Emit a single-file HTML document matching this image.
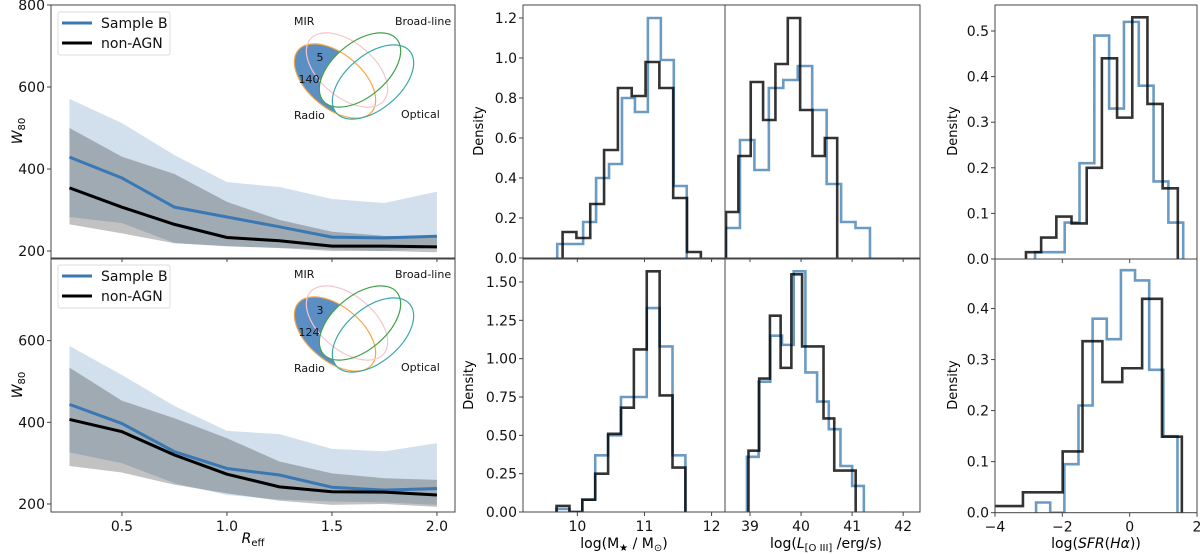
<!DOCTYPE html>
<html><head><meta charset="utf-8">
<style>
html,body{margin:0;padding:0;background:#fff;}
svg{display:block;font-family:"DejaVu Sans","Liberation Sans",sans-serif;}
</style></head>
<body>
<svg id="fig" width="1200" height="554" viewBox="0 0 1200 554" xmlns="http://www.w3.org/2000/svg"></svg>
<script>
// ---------- Data ----------
const reff = [0.25,0.5,0.75,1.0,1.25,1.5,1.75,2.0];
// top panel
const topSampleB = [429,378,307,283,259,234,232,236];
const topSampleBHi = [571,512,434,368,356,327,317,345];
const topSampleBLo = [283,268,220,211,208,204,200,207];
const topNonAGN = [354,307,265,233,225,212,212,210];
const topNonAGNHi = [500,430,388,320,276,247,237,236];
const topNonAGNLo = [265,243,219,212,207,200,200,197];
// bottom panel
const botSampleB = [444,397,328,287,271,241,234,238];
const botSampleBHi = [587,516,440,379,371,335,329,349];
const botSampleBLo = [326,300,251,222,211,206,204,198];
const botNonAGN = [407,377,320,273,242,230,229,222];
const botNonAGNHi = [534,453,410,361,304,275,263,259];
const botNonAGNLo = [293,277,247,226,208,198,200,193];
const leftYTicksTop = [200,400,600,800];
const leftYTicksBot = [200,400,600];
const leftXTicks = [0.5,1.0,1.5,2.0];

// histograms: start edge, bin width, heights
const massTopBlueStart = 9.70, massTopBlueW = 0.193;
const massTopBlue = [0.07,0.07,0.18,0.40,0.47,0.80,0.73,1.20,0.99,0.36];
const massTopBlackStart = 9.78, massTopBlackW = 0.206;
const massTopBlack = [0.13,0.10,0.27,0.54,0.85,0.81,0.98,0.85,0.30,0.03];
const oiiiTopBlueStart = 38.52, oiiiTopBlueW = 0.283;
const oiiiTopBlue = [0.15,0.59,0.44,0.85,0.89,0.96,0.74,0.37,0.18,0.15];
const oiiiTopBlackStart = 38.53, oiiiTopBlackW = 0.242;
const oiiiTopBlack = [0.23,0.51,0.88,0.69,0.97,1.20,0.74,0.51,0.60];
const massBotBlueStart = 9.69, massBotBlueW = 0.192;
const massBotBlue = [0.02,0.00,0.08,0.37,0.50,0.75,0.75,1.33,1.08,0.37];
const massBotBlackStart = 9.69, massBotBlackW = 0.192;
const massBotBlack = [0.04,0.00,0.08,0.25,0.51,0.68,1.06,1.57,0.76,0.29];
const oiiiBotBlueStart = 38.94, oiiiBotBlueW = 0.229;
const oiiiBotBlue = [0.36,0.85,1.15,1.09,1.57,0.91,0.72,0.54,0.30,0.17];
const oiiiBotBlackStart = 38.97, oiiiBotBlackW = 0.21;
const oiiiBotBlack = [0.40,0.87,1.28,0.94,1.55,1.08,1.08,0.61,0.27,0.27];
const sfrTopBlueStart = -2.81, sfrTopBlueW = 0.44;
const sfrTopBlue = [0.015,0.015,0.08,0.21,0.49,0.33,0.52,0.38,0.17,0.08];
const sfrTopBlackStart = -3.08, sfrTopBlackW = 0.451;
const sfrTopBlack = [0.015,0.047,0.093,0.078,0.20,0.44,0.31,0.53,0.34,0.155];
const sfrBotBlueStart = -2.78, sfrBotBlueW = 0.42;
const sfrBotBlue = [0.02,0.00,0.095,0.21,0.38,0.34,0.475,0.455,0.28,0.15];
const sfrBotBlackStart = -4.35, sfrBotBlackW = 0.59;
const sfrBotBlack = [0.013,0.013,0.04,0.04,0.12,0.336,0.256,0.283,0.419,0.149];

const massTicks = [10,11,12];
const oiiiTicks = [39,40,41,42];
const sfrTicks = [-4,-2,0,2];
const densTopMid = [0.0,0.2,0.4,0.6,0.8,1.0,1.2];
const densBotMid = [0.00,0.25,0.50,0.75,1.00,1.25,1.50];
const densTopRight = [0.0,0.1,0.2,0.3,0.4,0.5];
const densBotRight = [0.0,0.1,0.2,0.3,0.4];

// ---------- Helpers ----------
const NS = 'http://www.w3.org/2000/svg';
const svg = document.getElementById('fig');
function mk(tag, parent){ const e=document.createElementNS(NS,tag); (parent||svg).appendChild(e); return e; }
function scale(d0,d1,r0,r1){ return v => r0 + (v-d0)/(d1-d0)*(r1-r0); }
let clipId=0;
function makePanel(name,x0,x1,y0,y1,xd,yd){
  const g = mk('g');
  
  
  const cp = mk('clipPath', g); cp.setAttribute('id','c'+clipId);
  const r = mk('rect', cp); r.setAttribute('x',x0); r.setAttribute('y',y0); r.setAttribute('width',x1-x0); r.setAttribute('height',y1-y0);
  const inner = mk('g', g); inner.setAttribute('clip-path','url(#c'+clipId+')'); clipId++;
  return {g, inner, x0,x1,y0,y1, sx: scale(xd[0],xd[1],x0,x1), sy: scale(yd[0],yd[1],y1,y0)};
}
function frame(p){
  const r = mk('rect', p.g);
  
  
  r.setAttribute('x',p.x0); r.setAttribute('y',p.y0); r.setAttribute('width',p.x1-p.x0); r.setAttribute('height',p.y1-p.y0);
  r.setAttribute('fill','none'); r.setAttribute('stroke','#444'); r.setAttribute('stroke-width','1');
}
function text(parent,x,y,str,size,anchor){
  const t = mk('text', parent);
  t.setAttribute('x',x); t.setAttribute('y',y); t.setAttribute('font-size',size); t.setAttribute('text-anchor',anchor||'middle'); t.setAttribute('fill','#111');
  t.textContent = str; return t;
}
function yTicks(p, ticks, labels, fmt){
  ticks.forEach(v=>{
    const y = p.sy(v);
    const l = mk('line', p.g); l.setAttribute('x1',p.x0-4); l.setAttribute('x2',p.x0); l.setAttribute('y1',y); l.setAttribute('y2',y); l.setAttribute('stroke','#444');
    if(labels){ const t=text(p.g,p.x0-6,y+5,fmt(v),14,'end');
        }
  });
}
function xTicks(p, ticks, labels, fmt){
  ticks.forEach(v=>{
    const x = p.sx(v);
    const l = mk('line', p.g); l.setAttribute('x1',x); l.setAttribute('x2',x); l.setAttribute('y1',p.y1); l.setAttribute('y2',p.y1+4); l.setAttribute('stroke','#444');
    if(labels){ const t=text(p.g,x,p.y1+19,fmt(v),14,'middle');
        }
  });
}
function band(p, xs, hi, lo, fill, name){
  let d='M';
  xs.forEach((x,i)=>{ d += p.sx(x)+','+p.sy(hi[i])+' L'; });
  for(let i=xs.length-1;i>=0;i--){ d += p.sx(xs[i])+','+p.sy(lo[i])+(i>0?' L':' Z'); }
  const path = mk('path', p.inner); path.setAttribute('d',d); path.setAttribute('fill',fill);
  
  
}
function line(p, xs, ys, color, name){
  const pts = xs.map((x,i)=>p.sx(x)+','+p.sy(ys[i])).join(' ');
  const pl = mk('polyline', p.inner); pl.setAttribute('points',pts); pl.setAttribute('fill','none'); pl.setAttribute('stroke',color); pl.setAttribute('stroke-width','3');
  
  
}
function hist(p, start, w, h, color, name){
  let d = 'M'+p.sx(start)+','+p.sy(0);
  h.forEach((v,i)=>{ d += ' L'+p.sx(start+i*w)+','+p.sy(v)+' L'+p.sx(start+(i+1)*w)+','+p.sy(v); });
  d += ' L'+p.sx(start+h.length*w)+','+p.sy(0);
  const path = mk('path', p.inner); path.setAttribute('d',d); path.setAttribute('fill','none'); path.setAttribute('stroke',color); path.setAttribute('stroke-width','2.6'); path.setAttribute('stroke-linejoin','miter');
  
  
}
function legend(g, dy){
  const lg = mk('g', g);
  
  
  const r = mk('rect', lg); r.setAttribute('x',58); r.setAttribute('y',12+dy); r.setAttribute('width',112); r.setAttribute('height',43); r.setAttribute('rx',2);
  r.setAttribute('fill','#fff'); r.setAttribute('fill-opacity','0.8'); r.setAttribute('stroke','#ddd');
  const items=[['Sample B','#3a78b4',23],['non-AGN','#000',43]];
  items.forEach(it=>{
    const e = mk('g', lg);
    
    
    const l = mk('line', e); l.setAttribute('x1',62); l.setAttribute('x2',92); l.setAttribute('y1',it[2]+dy); l.setAttribute('y2',it[2]+dy); l.setAttribute('stroke',it[1]); l.setAttribute('stroke-width','3');
    text(e,101,it[2]+dy+5,it[0],14,'start');
  });
}
function venn(g, dy, n1, n2){
  const vg = mk('g', g);
  
  
  const E = [
    ['radio',335,81,48,27,40,'#f5a742'],
    ['mir',347,70,48,27,40,'#f6c4cc'],
    ['broad-line',360,70,48,27,-40,'#3fa34a'],
    ['optical',373,82,48,27,-40,'#3ba7a8']
  ];
  const rf = mk('ellipse', vg);
  rf.setAttribute('cx',E[0][1]); rf.setAttribute('cy',E[0][2]+dy); rf.setAttribute('rx',E[0][3]); rf.setAttribute('ry',E[0][4]);
  rf.setAttribute('transform','rotate('+E[0][5]+' '+E[0][1]+' '+(E[0][2]+dy)+')'); rf.setAttribute('fill','#5b8fc4');
  for(let i=2;i<4;i++){
    const e=mk('ellipse',vg); e.setAttribute('cx',E[i][1]); e.setAttribute('cy',E[i][2]+dy); e.setAttribute('rx',E[i][3]); e.setAttribute('ry',E[i][4]);
    e.setAttribute('transform','rotate('+E[i][5]+' '+E[i][1]+' '+(E[i][2]+dy)+')'); e.setAttribute('fill','#fff');
  }
  E.forEach(s=>{
    const e=mk('ellipse',vg); e.setAttribute('cx',s[1]); e.setAttribute('cy',s[2]+dy); e.setAttribute('rx',s[3]); e.setAttribute('ry',s[4]);
    e.setAttribute('transform','rotate('+s[5]+' '+s[1]+' '+(s[2]+dy)+')'); e.setAttribute('fill','none'); e.setAttribute('stroke',s[6]); e.setAttribute('stroke-width','1.2');
    
    
  });
  text(vg,294,25+dy,'MIR',11,'start');
  text(vg,395,25+dy,'Broad-line',11,'start');
  text(vg,294,119+dy,'Radio',11,'start');
  text(vg,401,118+dy,'Optical',11,'start');
  text(vg,320,61+dy,n1,11,'middle');
  text(vg,309,83+dy,n2,11,'middle');
}

// ---------- Left panels ----------
const L1 = makePanel('w80-top-panel',51,455,5,258,[0.162,2.086],[183,800]);
band(L1, reff, topSampleBHi, topSampleBLo, 'rgba(70,130,180,0.25)','sample-b-band');
band(L1, reff, topNonAGNHi, topNonAGNLo, 'rgba(0,0,0,0.24)','non-agn-band');
line(L1, reff, topSampleB, '#3a78b4','sample-b-line');
line(L1, reff, topNonAGN, '#000','non-agn-line');
frame(L1); yTicks(L1, leftYTicksTop, true, v=>String(v)); xTicks(L1, leftXTicks, false);
legend(L1.g, 0); venn(L1.g, 0, '5', '140');

const L2 = makePanel('w80-bottom-panel',51,455,259,512,[0.162,2.086],[180.4,800]);
band(L2, reff, botSampleBHi, botSampleBLo, 'rgba(70,130,180,0.25)','sample-b-band');
band(L2, reff, botNonAGNHi, botNonAGNLo, 'rgba(0,0,0,0.24)','non-agn-band');
line(L2, reff, botSampleB, '#3a78b4','sample-b-line');
line(L2, reff, botNonAGN, '#000','non-agn-line');
frame(L2); yTicks(L2, leftYTicksBot, true, v=>String(v)); xTicks(L2, leftXTicks, true, v=>v.toFixed(1));
legend(L2.g, 253); venn(L2.g, 253, '3', '124');

// ---------- Middle panels ----------
const BLUE='rgba(70,130,180,0.8)', BLACK='rgba(0,0,0,0.8)';
const M1 = makePanel('mass-top-hist',523,725,5,258,[9.19,12.2],[0,1.265]);
hist(M1, massTopBlueStart, massTopBlueW, massTopBlue, BLUE,'sample-b-hist');
hist(M1, massTopBlackStart, massTopBlackW, massTopBlack, BLACK,'non-agn-hist');
frame(M1); yTicks(M1, densTopMid, true, v=>v.toFixed(1)); xTicks(M1, massTicks, false);
const M2 = makePanel('oiii-top-hist',725,920,5,258,[38.51,42.33],[0,1.265]);
hist(M2, oiiiTopBlueStart, oiiiTopBlueW, oiiiTopBlue, BLUE,'sample-b-hist');
hist(M2, oiiiTopBlackStart, oiiiTopBlackW, oiiiTopBlack, BLACK,'non-agn-hist');
frame(M2); xTicks(M2, oiiiTicks, false);
const M3 = makePanel('mass-bottom-hist',523,725,259,512,[9.19,12.2],[0,1.65]);
hist(M3, massBotBlueStart, massBotBlueW, massBotBlue, BLUE,'sample-b-hist');
hist(M3, massBotBlackStart, massBotBlackW, massBotBlack, BLACK,'non-agn-hist');
frame(M3); yTicks(M3, densBotMid, true, v=>v.toFixed(2)); xTicks(M3, massTicks, true, v=>String(v));
const M4 = makePanel('oiii-bottom-hist',725,920,259,512,[38.51,42.33],[0,1.65]);
hist(M4, oiiiBotBlueStart, oiiiBotBlueW, oiiiBotBlue, BLUE,'sample-b-hist');
hist(M4, oiiiBotBlackStart, oiiiBotBlackW, oiiiBotBlack, BLACK,'non-agn-hist');
frame(M4); xTicks(M4, oiiiTicks, true, v=>String(v));

// ---------- Right panels ----------
const R1 = makePanel('sfr-top-hist',995,1197,5,259,[-4,2],[0,0.557]);
hist(R1, sfrTopBlueStart, sfrTopBlueW, sfrTopBlue, BLUE,'sample-b-hist');
hist(R1, sfrTopBlackStart, sfrTopBlackW, sfrTopBlack, BLACK,'non-agn-hist');
frame(R1); yTicks(R1, densTopRight, true, v=>v.toFixed(1)); xTicks(R1, sfrTicks, false);
const R2 = makePanel('sfr-bottom-hist',995,1197,259,512.7,[-4,2],[0,0.497]);
hist(R2, sfrBotBlueStart, sfrBotBlueW, sfrBotBlue, BLUE,'sample-b-hist');
hist(R2, sfrBotBlackStart, sfrBotBlackW, sfrBotBlack, BLACK,'non-agn-hist');
frame(R2); yTicks(R2, densBotRight, true, v=>v.toFixed(1)); xTicks(R2, sfrTicks, true, v=>(v<0?'\u2212'+(-v):String(v)));
</script>
<!-- static axis titles -->
<svg style="position:absolute;left:0;top:0" width="1200" height="554" font-family="DejaVu Sans, Liberation Sans, sans-serif">
  <text transform="translate(22,131) rotate(-90)" text-anchor="middle" font-size="14"><tspan font-style="italic">W</tspan><tspan font-size="10" dy="3">80</tspan></text>
  <text transform="translate(22,385) rotate(-90)" text-anchor="middle" font-size="14"><tspan font-style="italic">W</tspan><tspan font-size="10" dy="3">80</tspan></text>
  <text x="253" y="543" text-anchor="middle" font-size="14"><tspan font-style="italic">R</tspan><tspan font-size="10" dy="3">eff</tspan></text>
  <text transform="translate(483,131) rotate(-90)" text-anchor="middle" font-size="13">Density</text>
  <text transform="translate(473,385) rotate(-90)" text-anchor="middle" font-size="13">Density</text>
  <text transform="translate(957,131) rotate(-90)" text-anchor="middle" font-size="13">Density</text>
  <text transform="translate(957,385) rotate(-90)" text-anchor="middle" font-size="13">Density</text>
  <text x="624" y="548" text-anchor="middle" font-size="14">log(M<tspan font-size="10" dy="3">★</tspan><tspan dy="-3"> / M</tspan><tspan font-size="10" dy="3">⊙</tspan><tspan dy="-3">)</tspan></text>
  <text x="826" y="548" text-anchor="middle" font-size="14">log(<tspan font-style="italic">L</tspan><tspan font-size="10" dy="3">[O III]</tspan><tspan dy="-3"> /erg/s)</tspan></text>
  <text x="1096" y="548" text-anchor="middle" font-size="14">log(<tspan font-style="italic">SFR</tspan>(<tspan font-style="italic">Hα</tspan>))</text>
</svg>
</body></html>
